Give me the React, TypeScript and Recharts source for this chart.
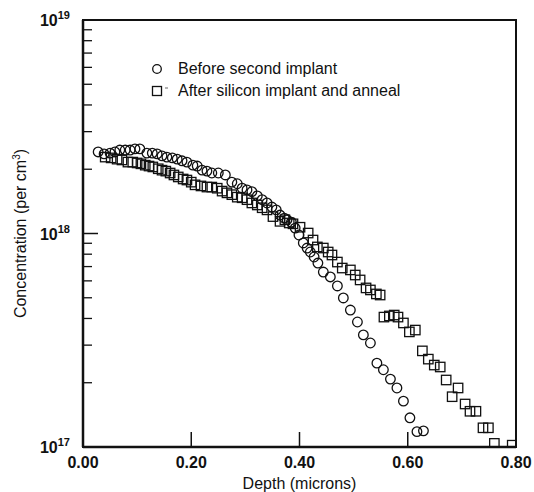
import React from 'react';
import { ScatterChart, Scatter, XAxis, YAxis, ReferenceArea, Legend } from 'recharts';

const beforeDepth = [
  0.028, 0.039, 0.050, 0.059, 0.068, 0.078, 0.087, 0.096, 0.105, 0.118,
  0.128, 0.137, 0.146, 0.155, 0.165, 0.174, 0.183, 0.192, 0.203, 0.211,
  0.220, 0.229, 0.238, 0.250, 0.263, 0.275, 0.285, 0.294, 0.303, 0.312,
  0.322, 0.331, 0.340, 0.349, 0.357, 0.364, 0.372, 0.377, 0.385, 0.392,
  0.399, 0.407, 0.414, 0.420, 0.427, 0.434, 0.444, 0.457, 0.470, 0.481,
  0.494, 0.507, 0.518, 0.531, 0.543, 0.555, 0.568, 0.580, 0.592, 0.604,
  0.617, 0.629,
];
const beforeConc = [
  2.41e18, 2.36e18, 2.38e18, 2.41e18, 2.46e18, 2.46e18, 2.46e18, 2.49e18, 2.49e18, 2.38e18,
  2.38e18, 2.36e18, 2.31e18, 2.28e18, 2.26e18, 2.23e18, 2.19e18, 2.16e18, 2.09e18, 2.07e18,
  1.98e18, 1.96e18, 1.92e18, 1.92e18, 1.88e18, 1.74e18, 1.71e18, 1.63e18, 1.60e18, 1.57e18,
  1.50e18, 1.44e18, 1.39e18, 1.33e18, 1.29e18, 1.22e18, 1.18e18, 1.16e18, 1.13e18, 1.06e18,
  9.84e17, 9.03e17, 8.55e17, 8.19e17, 7.76e17, 7.27e17, 6.60e17, 6.26e17, 5.68e17, 4.99e17,
  4.38e17, 3.85e17, 3.35e17, 3.07e17, 2.47e17, 2.30e17, 2.08e17, 1.89e17, 1.64e17, 1.37e17,
  1.18e17, 1.19e17,
];

const afterDepth = [
  0.041, 0.052, 0.063, 0.072, 0.083, 0.092, 0.100, 0.107, 0.115, 0.122,
  0.129, 0.139, 0.146, 0.153, 0.161, 0.168, 0.176, 0.185, 0.192, 0.200,
  0.207, 0.218, 0.229, 0.238, 0.248, 0.257, 0.266, 0.275, 0.285, 0.294,
  0.303, 0.312, 0.322, 0.331, 0.340, 0.351, 0.364, 0.373, 0.381, 0.388,
  0.401, 0.416, 0.425, 0.433, 0.444, 0.453, 0.460, 0.470, 0.479, 0.494,
  0.503, 0.512, 0.523, 0.531, 0.542, 0.549, 0.556, 0.566, 0.575, 0.582,
  0.592, 0.603, 0.614, 0.627, 0.638, 0.649, 0.660, 0.671, 0.682, 0.693,
  0.706, 0.715, 0.726, 0.739, 0.749, 0.760, 0.793,
];
const afterConc = [
  2.28e18, 2.26e18, 2.23e18, 2.21e18, 2.16e18, 2.16e18, 2.14e18, 2.12e18, 2.09e18, 2.07e18,
  2.05e18, 2.01e18, 1.98e18, 1.96e18, 1.92e18, 1.88e18, 1.84e18, 1.80e18, 1.78e18, 1.74e18,
  1.69e18, 1.67e18, 1.65e18, 1.65e18, 1.63e18, 1.58e18, 1.55e18, 1.52e18, 1.48e18, 1.47e18,
  1.44e18, 1.39e18, 1.36e18, 1.32e18, 1.29e18, 1.20e18, 1.14e18, 1.16e18, 1.12e18, 1.11e18,
  1.07e18, 1.005e18, 9.32e17, 8.65e17, 8.55e17, 8.19e17, 7.93e17, 7.35e17, 6.89e17, 6.75e17,
  6.39e17, 6.06e17, 5.56e17, 5.44e17, 5.21e17, 5.15e17, 4.06e17, 4.11e17, 4.15e17, 4.06e17,
  3.81e17, 3.46e17, 3.53e17, 2.82e17, 2.58e17, 2.42e17, 2.37e17, 2.06e17, 1.72e17, 1.89e17,
  1.59e17, 1.47e17, 1.47e17, 1.23e17, 1.23e17, 1.04e17, 1.02e17,
];

const seriesNames = ['Before second implant', 'After silicon implant and anneal'];
const xTicks = [0, 0.2, 0.4, 0.6, 0.8];
const xTickLabels = ['0.00', '0.20', '0.40', '0.60', '0.80'];
const yMajorTicks = [1e17, 1e18, 1e19];
const yMajorExponents = ['17', '18', '19'];
const yMinorTicks = [
  2e17, 3e17, 4e17, 5e17, 6e17, 7e17, 8e17, 9e17,
  2e18, 3e18, 4e18, 5e18, 6e18, 7e18, 8e18, 9e18,
];
const yAllTicks = [...yMajorTicks, ...yMinorTicks].sort((a, b) => a - b);

const beforeData = beforeDepth.map((d, i) => ({ depth: d, conc: beforeConc[i] }));
const afterData = afterDepth.map((d, i) => ({ depth: d, conc: afterConc[i] }));

const FONT = '"Liberation Sans", Arial, Helvetica, sans-serif';

const CircleShape = (props: any) => (
  <circle cx={props.cx} cy={props.cy} r={4.8} fill="none" stroke="#111" strokeWidth={1.3} />
);
const SquareShape = (props: any) => (
  <rect x={props.cx - 4.7} y={props.cy - 4.7} width={9.4} height={9.4} fill="none" stroke="#111" strokeWidth={1.3} />
);

const XTick = (props: any) => {
  const { x, y, payload } = props;
  const idx = xTicks.indexOf(payload.value);
  const inner = idx > 0 && idx < xTicks.length - 1;
  return (
    <g>
      {inner && <line x1={x} x2={x} y1={y} y2={y - 15} stroke="#111" strokeWidth={1.5} />}
      <text x={x} y={y + 21} textAnchor="middle" fontFamily={FONT} fontSize={16} fontWeight="bold" fill="#111">
        {idx >= 0 ? xTickLabels[idx] : ''}
      </text>
    </g>
  );
};

const YTickLeft = (props: any) => {
  const { x, y, payload } = props;
  const mi = yMajorTicks.indexOf(payload.value);
  if (mi >= 0) {
    return (
      <g>
        {mi === 1 && <line x1={x} x2={x + 15} y1={y} y2={y} stroke="#111" strokeWidth={1.5} />}
        <text x={x - 13} y={y + 6} textAnchor="end" fontFamily={FONT} fontSize={16} fontWeight="bold" fill="#111">
          10
          <tspan dy={-7} fontSize={11}>{yMajorExponents[mi]}</tspan>
        </text>
      </g>
    );
  }
  return <line x1={x} x2={x + 9} y1={y} y2={y} stroke="#111" strokeWidth={1.3} />;
};

const YTickRight = (props: any) => {
  const { x, y, payload } = props;
  const mi = yMajorTicks.indexOf(payload.value);
  if (mi === 0 || mi === 2) return <g />;
  const len = mi === 1 ? 12 : 6;
  return <line x1={x} x2={x - len} y1={y} y2={y} stroke="#111" strokeWidth={1.2} />;
};

const renderLegend = () => (
  <div style={{ fontFamily: FONT, fontSize: 16, color: '#111', lineHeight: '22px' }}>
    <div style={{ display: 'flex', alignItems: 'center' }}>
      <svg width={30} height={22}>
        <circle cx={9} cy={11} r={4.3} fill="none" stroke="#111" strokeWidth={1.3} />
      </svg>
      <span>{seriesNames[0]}</span>
    </div>
    <div style={{ display: 'flex', alignItems: 'center' }}>
      <svg width={30} height={22}>
        <rect x={4.5} y={6.5} width={9} height={9} fill="none" stroke="#111" strokeWidth={1.3} />
        <line x1={17} x2={20} y1={8} y2={8} stroke="#666" strokeWidth={1} />
      </svg>
      <span>{seriesNames[1]}</span>
    </div>
  </div>
);

export default function App() {
  return (
    <div style={{ width: 534, height: 492, background: '#fff' }}>
      <style>{`body{margin:0;background:#fff}`}</style>
      <ScatterChart width={534} height={492} margin={{ top: 20, right: 18, bottom: 0, left: 10 }}>
        <XAxis
          type="number"
          dataKey="depth"
          domain={[0, 0.8]}
          ticks={xTicks}
          interval={0}
          allowDataOverflow
          height={45}
          tickSize={0}
          tickMargin={0}
          tick={<XTick />}
          axisLine={{ stroke: '#111', strokeWidth: 2.5 }}
          label={{
            content: (p: any) => {
              const vb = p.viewBox;
              return (
                <text x={vb.x + vb.width / 2} y={vb.y + 42} textAnchor="middle" fontFamily={FONT} fontSize={16} fill="#111">
                  Depth (microns)
                </text>
              );
            },
          }}
        />
        <YAxis
          type="number"
          dataKey="conc"
          scale="log"
          domain={[1e17, 1e19]}
          ticks={yAllTicks}
          interval={0}
          allowDataOverflow
          width={73}
          tickSize={0}
          tickMargin={0}
          tick={<YTickLeft />}
          axisLine={{ stroke: '#111', strokeWidth: 2.5 }}
          label={{
            content: (p: any) => {
              const vb = p.viewBox;
              return (
                <text
                  transform={`translate(${vb.x + 16},${vb.y + vb.height / 2}) rotate(-90)`}
                  textAnchor="middle"
                  fontFamily={FONT}
                  fontSize={16}
                  fill="#111"
                >
                  Concentration (per cm<tspan dy={-6} fontSize={10}>3</tspan><tspan dy={6}>)</tspan>
                </text>
              );
            },
          }}
        />
        <YAxis
          yAxisId="right"
          orientation="right"
          type="number"
          scale="log"
          domain={[1e17, 1e19]}
          ticks={yAllTicks}
          interval={0}
          allowDataOverflow
          width={0}
          tickSize={0}
          tickMargin={0}
          tick={<YTickRight />}
          axisLine={false}
        />
        <ReferenceArea
          x1={0}
          x2={0.8}
          y1={1e17}
          y2={1e19}
          fill="none"
          fillOpacity={0}
          stroke="#111"
          strokeWidth={2}
          ifOverflow="visible"
        />
        <Legend
          layout="vertical"
          verticalAlign="middle"
          align="center"
          content={renderLegend}
          wrapperStyle={{ left: 148, top: 58, width: 280 }}
        />
        <Scatter name={seriesNames[0]} data={beforeData} shape={CircleShape} isAnimationActive={false} />
        <Scatter name={seriesNames[1]} data={afterData} shape={SquareShape} isAnimationActive={false} />
      </ScatterChart>
    </div>
  );
}
